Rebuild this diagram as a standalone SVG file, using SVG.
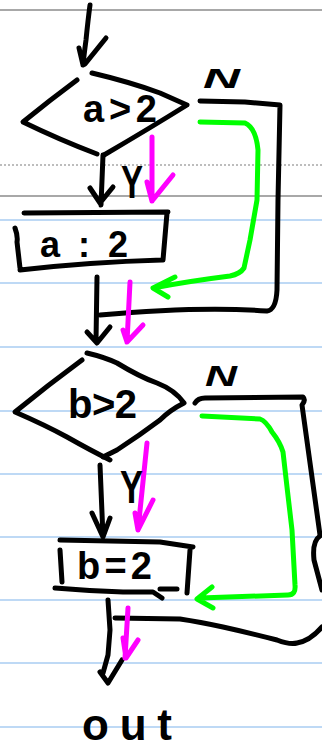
<svg xmlns="http://www.w3.org/2000/svg" width="322" height="748" viewBox="0 0 322 748">
<defs>
<style>
.ink{fill:none;stroke:#000;stroke-width:5;stroke-linecap:round;stroke-linejoin:round}
.mag{fill:none;stroke:#ff00ff;stroke-width:5;stroke-linecap:round;stroke-linejoin:round}
.grn{fill:none;stroke:#00ff00;stroke-width:5;stroke-linecap:round;stroke-linejoin:round}
.rule{stroke:#a9cdf2;stroke-width:1.5}
.gray{stroke:#a8a8a8;stroke-width:2}
.t{font-family:"Liberation Sans",Arial,sans-serif;font-weight:bold;fill:#000}
</style>
</defs>
<rect width="322" height="748" fill="#fff"/>
<g id="paper">
<line class="gray" x1="0" y1="10" x2="322" y2="10"/>
<line x1="0" y1="165" x2="322" y2="165" stroke="#a8a8a8" stroke-width="1.5" stroke-dasharray="2,2"/>
<line class="gray" x1="0" y1="196" x2="322" y2="196"/>
<line class="rule" x1="0" y1="220" x2="322" y2="220"/>
<line class="rule" x1="0" y1="283" x2="322" y2="283"/>
<line class="rule" x1="0" y1="347" x2="322" y2="347"/>
<line class="rule" x1="0" y1="411" x2="322" y2="411"/>
<line class="rule" x1="0" y1="474" x2="322" y2="474"/>
<line class="rule" x1="0" y1="537" x2="322" y2="537"/>
<line class="rule" x1="0" y1="600" x2="322" y2="600"/>
<line class="rule" x1="0" y1="663" x2="322" y2="663"/>
<line class="rule" x1="0" y1="727" x2="322" y2="727"/>
</g>
<g id="decision-a">
<path class="ink" d="M77,80 Q50,100 23,122 Q60,140 97,154"/>
<path class="ink" d="M92,73 Q130,82 160,93 L187,105 Q150,128 104,155"/>
<text class="t" x="83" y="122" font-size="38" textLength="74" lengthAdjust="spacing">a&gt;2</text>
</g>
<g id="process-a">
<path class="ink" d="M24,213 L168,212 M167,213 L163,260 M20,270 Q90,262 162,260 M15,228 Q18,236 17,242 L20,268"/>
<text class="t" x="40" y="257" font-size="36" textLength="88" lengthAdjust="spacing">a:2</text>
</g>
<g id="decision-b">
<path class="ink" d="M82,360 Q48,385 15,412 Q45,425 67,437 Q90,450 110,460"/>
<path class="ink" d="M87,353 Q104,357 117,363 Q140,377 157,383 Q175,390 184,403 Q170,410 160,420 Q140,435 117,450 L103,457"/>
<text class="t" x="68" y="418" font-size="40" textLength="69" lengthAdjust="spacing">b&gt;2</text>
</g>
<g id="process-b">
<path class="ink" d="M60,540 L160,542 L193,547 M190,550 L187,593 M55,588 Q90,591 123,592 L153,592 L162,598 M160,589 L177,589 M60,550 L62,582"/>
<text class="t" x="77" y="579" font-size="38" textLength="75" lengthAdjust="spacing">b=2</text>
</g>
<g id="end">
<text class="t" x="82" y="740" font-size="44" textLength="90" lengthAdjust="spacing">out</text>
</g>
<g id="connectors">
<path class="ink" d="M90,5 Q88,20 86,40 Q84,55 83,65 M79,48 L83,65 M106,38 L85,64"/>
<path class="ink" d="M200,101 L245,102 L280,105 L278,200 L277,290 Q276,310 267,311 Q200,306 100,315"/>
<path class="ink" d="M103,155 L101,205 M90,188 L100,203 M113,187 L100,203"/>
<path class="ink" d="M97,277 L96,341 M87,332 L97,343 L110,327"/>
<path class="ink" d="M195,403 Q198,398 205,398 L303,397 Q306,400 302,405 L320,535"/>
<path class="ink" d="M320,536 Q312,541 314,560 L322,590"/>
<path class="ink" d="M100,465 L103,537 M92,513 L103,537 L110,518"/>
<path class="ink" d="M108,600 L110,630 L108,655 L103,673 M100,672 L108,683 L122,660"/>
<path class="ink" d="M115,618 L180,619 Q200,622 223,627 Q250,633 277,640 Q290,645 297,643 Q310,641 322,627"/>
<path class="grn" d="M200,122 L245,123 Q256,128 258,150 L257,200 L250,240 L244,268 Q240,274 230,276 Q190,281 153,288 M175,277 L153,288 L168,297"/>
<path class="grn" d="M202,416 L260,419 Q266,421 272,432 Q280,442 283,452 L287,487 L292,530 L295,585 Q296,595 288,595 L200,598 M212,587 L197,599 L213,608"/>
<path class="mag" d="M152,137 L152,201 M147,182 L152,201 L173,175"/>
<path class="mag" d="M130,282 L127,342 M123,330 L127,342 L143,325"/>
<path class="mag" d="M147,443 L138,530 M135,513 L138,530 L153,500"/>
<path class="mag" d="M128,608 L125,658 M123,638 L126,658 L138,640"/>
<text class="t" x="203" y="88" font-size="28" font-style="italic" textLength="37" lengthAdjust="spacingAndGlyphs">N</text>
<text class="t" x="205" y="386" font-size="30" font-style="italic" textLength="32" lengthAdjust="spacingAndGlyphs">N</text>
<text class="t" x="121" y="198" font-size="46" textLength="22" lengthAdjust="spacingAndGlyphs">Y</text>
<text class="t" x="120" y="503" font-size="46" textLength="23" lengthAdjust="spacingAndGlyphs">Y</text>
</g>
</svg>
